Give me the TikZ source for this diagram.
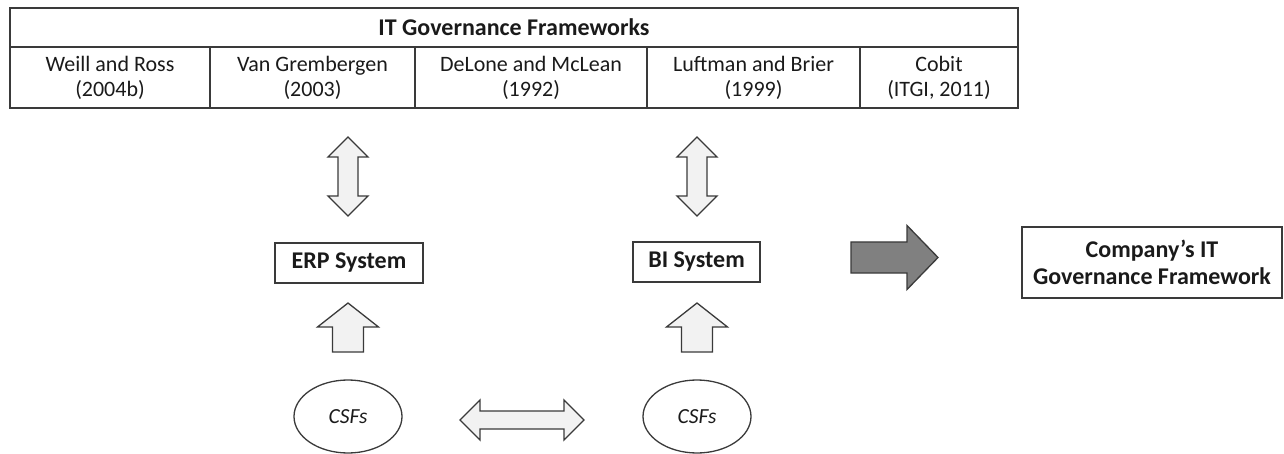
\documentclass[tikz,border=0pt]{standalone}
\usepackage{fontspec}
\setmainfont{Carlito}
\usetikzlibrary{shapes.geometric}
\definecolor{linec}{HTML}{3A3A3A}
\definecolor{txtc}{HTML}{1A1A1A}
\definecolor{lightfill}{HTML}{F2F2F2}
\definecolor{darkfill}{HTML}{808080}
\tikzset{
  cell/.style={draw=linec, line width=1.3pt, inner sep=0pt, align=center, text=txtc,
    font=\fontsize{22}{25}\selectfont},
  boldbox/.style={cell, font=\fontsize{24}{27}\selectfont\bfseries},
  csf/.style={draw=linec, line width=1.3pt, ellipse, inner sep=0pt, text=txtc,
    minimum width=108pt, minimum height=73pt, font=\fontsize{21.5}{24}\selectfont\itshape},
  blockarrow/.style={draw=linec, line width=1.3pt, fill=lightfill, line join=miter},
  bigarrow/.style={draw=linec, line width=1.3pt, fill=darkfill, line join=miter}
}
\begin{document}
\begin{tikzpicture}[x=1pt, y=-1pt]
\useasboundingbox (0,0) rectangle (1284,454);
% table
\node[boldbox, minimum width=1008pt, minimum height=39pt] (head) at (514,27.5) {IT Governance Frameworks};
\node[cell, minimum width=200pt, minimum height=61pt] (c1) at (110,77.5) {Weill and Ross\\(2004b)};
\node[cell, minimum width=205pt, minimum height=61pt] (c2) at (312.5,77.5) {Van Grembergen\\(2003)};
\node[cell, minimum width=232pt, minimum height=61pt] (c3) at (531,77.5) {DeLone and McLean\\(1992)};
\node[cell, minimum width=213pt, minimum height=61pt] (c4) at (753.5,77.5) {Luftman and Brier\\(1999)};
\node[cell, minimum width=158pt, minimum height=61pt] (c5) at (939,77.5) {Cobit\\(ITGI, 2011)};
% system boxes
\node[boldbox, minimum width=148pt, minimum height=40pt] (erp) at (349,263) {ERP System};
\node[boldbox, minimum width=127pt, minimum height=40pt] (bi) at (696.5,262) {BI System};
\node[boldbox, minimum width=260pt, minimum height=71pt] (comp) at (1152,262.5) {Company’s IT\\Governance Framework};
% CSFs
\node[csf] (csf1) at (348,416.5) {CSFs};
\node[csf] (csf2) at (697,416.5) {CSFs};
% vertical double arrows
\foreach \cx in {348, 697}{
  \begin{scope}[shift={(\cx,137)}]
    \draw[blockarrow] (0,0) -- (20,20) -- (10,20) -- (10,59) -- (20,59) -- (0,79)
      -- (-20,59) -- (-10,59) -- (-10,20) -- (-20,20) -- cycle;
  \end{scope}
}
% up arrows
\foreach \cx in {348, 697}{
  \begin{scope}[shift={(\cx,303)}]
    \draw[blockarrow] (0,0) -- (30.5,24) -- (15.5,24) -- (15.5,49) -- (-15.5,49)
      -- (-15.5,24) -- (-30.5,24) -- cycle;
  \end{scope}
}
% horizontal double arrow
\begin{scope}[shift={(460,420)}]
  \draw[blockarrow] (0,0) -- (20,-20) -- (20,-9) -- (104,-9) -- (104,-20) -- (124,0)
    -- (104,20) -- (104,9) -- (20,9) -- (20,20) -- cycle;
\end{scope}
% big grey arrow
\begin{scope}[shift={(851,257.5)}]
  \draw[bigarrow] (0,-15.5) -- (56,-15.5) -- (56,-32) -- (87,0) -- (56,32) -- (56,15.5)
    -- (0,15.5) -- cycle;
\end{scope}
\end{tikzpicture}
\end{document}
